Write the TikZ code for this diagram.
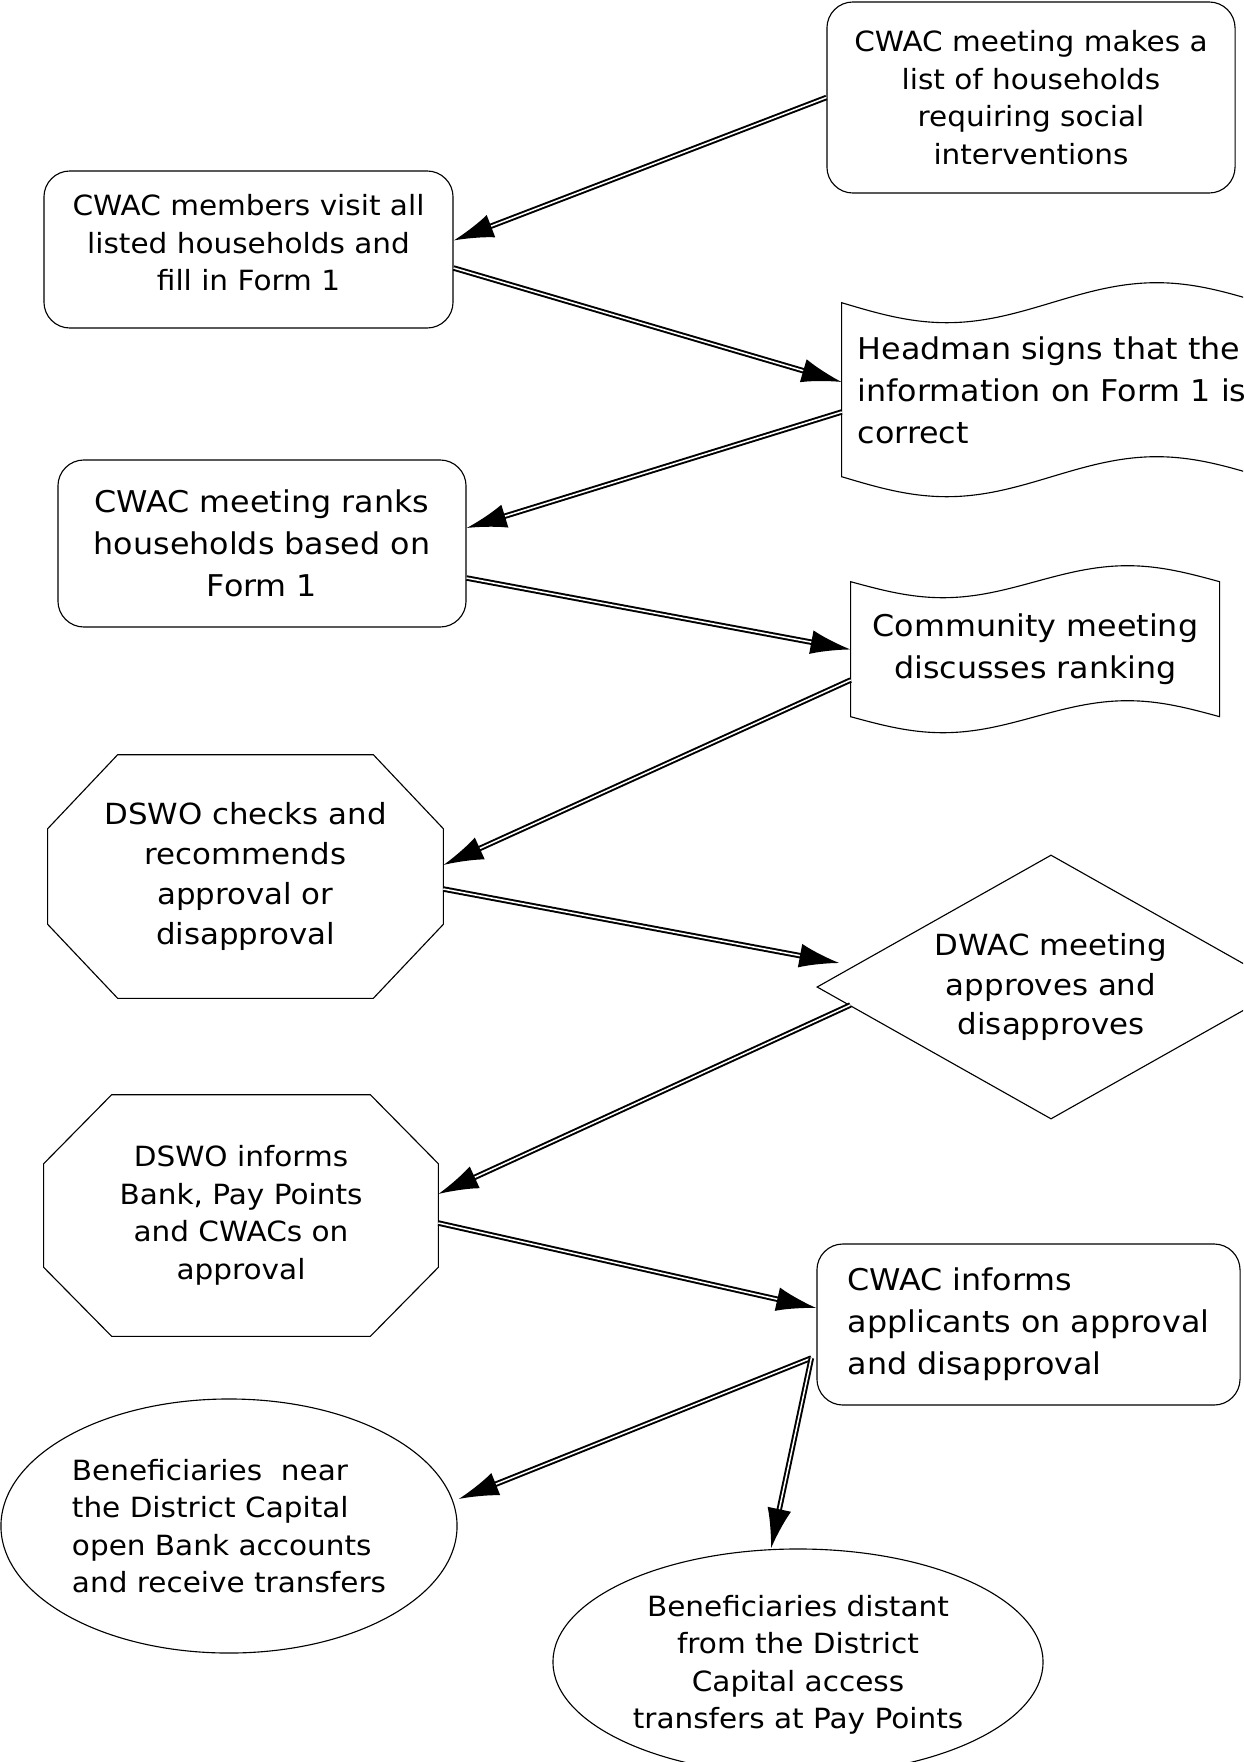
\documentclass[tikz,border=0pt]{standalone}
\usepackage{fontspec}
\setmainfont{DejaVu Sans}[FakeStretch=1.06]
\usetikzlibrary{shapes.geometric,arrows.meta,calc}

\begin{document}
\begin{tikzpicture}[x=0.025cm, y=-0.025cm,
  box/.style={rectangle, rounded corners=0.65cm, draw=black, line width=0.8pt, inner sep=0pt},
  octa/.style={rectangle, align=center, inner sep=0pt},
  tape/.style={rectangle, inner sep=0pt},
  oval/.style={ellipse, draw=black, line width=0.8pt, inner sep=0pt},
  flow/.style={draw=black, line width=1.4pt, double=white, double distance=1.1pt, -{Latex[length=1cm, width=0.6cm]}},
  tight/.style={font=\fontsize{19.8}{26.7}\selectfont},
  mid/.style={font=\fontsize{20.7}{28.3}\selectfont},
  loose/.style={font=\fontsize{21.3}{29.8}\selectfont}]

\useasboundingbox (0,0) rectangle (1243,1762);
\clip (0,0) rectangle (1243,1762);

\node (top) [box, tight, align=center, minimum width=10.2cm, minimum height=4.775cm] at (1031,97.5) {CWAC meeting makes a\\list of households\\requiring social\\interventions};

\node (visit) [box, tight, align=center, minimum width=10.225cm, minimum height=3.925cm, text depth=0.35cm] at (248.5,249.5) {CWAC members visit all\\listed households and\\fill in Form 1};

\node (headman) [tape, loose, align=left, minimum width=10.5cm, minimum height=4.35cm] at (1052,390) {Headman signs that the\\information on Form 1 is\\correct};

\node (ranks) [box, loose, align=center, minimum width=10.2cm, minimum height=4.175cm] at (262,543.5) {CWAC meeting ranks\\households based on\\Form 1};

\node (community) [tape, loose, align=center, minimum width=9.225cm, minimum height=3.375cm] at (1035.5,649.5) {Community meeting\\discusses ranking};

\node (checks) [octa, mid, minimum width=9.875cm, minimum height=6.075cm] at (245.5,876.5) {DSWO checks and\\recommends\\approval or\\disapproval};

\node (dwac) [diamond, draw=black, line width=0.8pt, mid, align=center, aspect=1.77, inner sep=0pt, minimum width=11.7cm, minimum height=6.6cm] at (1051,987) {DWAC meeting\\approves and\\disapproves};

\node (informs) [octa, tight, minimum width=9.85cm, minimum height=6.025cm] at (241,1215.5) {DSWO informs\\Bank, Pay Points\\and CWACs on\\approval};

\node (cinform) [box, loose, align=left, minimum width=10.575cm, minimum height=4.025cm] at (1028.5,1324.5) {CWAC informs\\applicants on approval\\and disapproval};

\node (near) [oval, tight, align=left, minimum width=11.4cm, minimum height=6.35cm] at (229,1526) {Beneficiaries~ near\\the District Capital\\open Bank accounts\\and receive transfers};

\node (distant) [oval, tight, align=center, minimum width=12.25cm, minimum height=5.65cm, text depth=-0.2cm] at (798,1662) {Beneficiaries distant\\from the District\\Capital access\\transfers at Pay Points};

\foreach \n/\cx/\cy in {checks/70/74, informs/68/69}
  \draw[line width=0.8pt] ($(\n.north west)+(\cx,0)$) -- ($(\n.north east)+(-\cx,0)$) -- ($(\n.north east)+(0,\cy)$) -- ($(\n.south east)+(0,-\cy)$) -- ($(\n.south east)+(-\cx,0)$) -- ($(\n.south west)+(\cx,0)$) -- ($(\n.south west)+(0,-\cy)$) -- ($(\n.north west)+(0,\cy)$) -- cycle;

\draw[line width=0.8pt] (headman.south west) -- (headman.north west) sin ++(105,20) cos ++(105,-20) sin ++(105,-20) cos ++(105,20) -- ++(0,174) sin ++(-105,-20) cos ++(-105,20) sin ++(-105,20) cos ++(-105,-20) -- cycle;

\draw[line width=0.8pt] (community.south west) -- (community.north west) sin ++(92.25,16) cos ++(92.25,-16) sin ++(92.25,-16) cos ++(92.25,16) -- ++(0,135) sin ++(-92.25,-16) cos ++(-92.25,16) sin ++(-92.25,16) cos ++(-92.25,-16) -- cycle;

\draw[flow] (top.west) -- ($(visit.east)+(0,-9)$);
\draw[flow] ($(visit.east)+(0,18.5)$) -- ($(headman.west)+(0,-8)$);
\draw[flow] ($(headman.west)+(0,22)$) -- ($(ranks.east)+(0,-15.5)$);
\draw[flow] ($(ranks.east)+(0,34.5)$) -- (community.west);
\draw[flow] ($(community.west)+(0,30.5)$) -- ($(checks.east)+(0,-11.5)$);
\draw[flow] ($(checks.east)+(0,12.5)$) -- ($(dwac.west)+(23,-24)$);
\draw[flow] ($(dwac.west)+(34,18)$) -- ($(informs.east)+(0,-21.5)$);
\draw[flow] ($(informs.east)+(0,7.5)$) -- ($(cinform.west)+(0,-16.5)$);

\coordinate (split) at ($(cinform.west)+(-5,33.5)$);
\draw[flow] (split) -- ($(near.east)+(1,-27)$);
\draw[flow] (split) -- ($(distant.north)+(-27,0)$);

\end{tikzpicture}
\end{document}
